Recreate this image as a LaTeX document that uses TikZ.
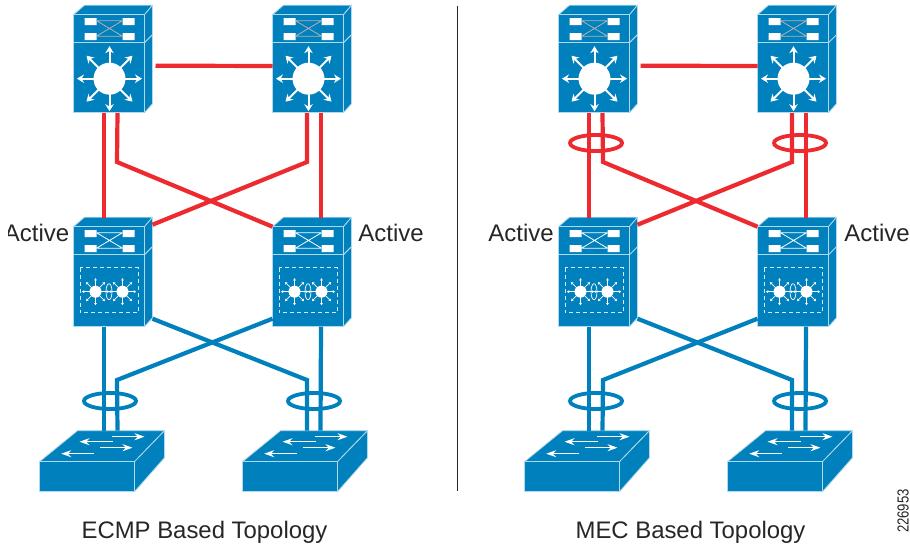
\documentclass[tikz,border=0pt]{standalone}
\usepackage{fontspec}
\usetikzlibrary{arrows.meta}
\setmainfont{Liberation Sans}
\definecolor{cblue}{HTML}{0080BC}
\definecolor{cred}{HTML}{ED2A30}
\tikzset{
  face/.style={fill=cblue,draw=white!70!cblue,line width=.8pt,line join=round},
  redlink/.style={draw=cred,line width=4.2pt},
  bluelink/.style={draw=cblue,line width=4.2pt},
  bundlered/.style={draw=cred,line width=3.8pt},
  bundleblue/.style={draw=cblue,line width=3.8pt},
  wline/.style={draw=white!70!cblue,line width=1pt},
  warrow/.style={draw=white,line width=2pt,-{Stealth[length=7pt,width=8.5pt]}},
  warrowsmall/.style={draw=white,line width=.7pt,-{Stealth[length=2.4pt,width=3pt]}},
  swarrow/.style={draw=white,line width=1.3pt,-{Stealth[length=10pt,width=7pt]}},
  lbl/.style={font=\fontsize{24}{24}\selectfont,text=black!85,inner sep=0pt,anchor=base},
  captiontext/.style={font=\fontsize{23.9}{24}\selectfont,text=black!85,inner sep=0pt,anchor=base},
}
% upper module with crossed ports; origin = front top left
\newcommand\portmodule[1]{%
  \fill[white] (11,3.5) rectangle (23,10.5) (49,3.5) rectangle (61,10.5) (11,18.5) rectangle (23,25.5) (49,18.5) rectangle (61,25.5);
  \draw[draw=#1,line width=.8pt] (23,6)--(49,6) (23,21.5)--(49,21.5) (23,21.5)--(49,6) (23,6)--(49,21.5);
}
\newcommand\chassis[3]{% bottom offset, x, y
  \begin{scope}[shift={(#2,#3)}]
    \path[face] (0,0)--(11,-9.5)--(79,-9.5)--(71,0)--cycle;
    \path[face] (71,0)--(79,-9.5)--(79,#1)--(71,#1+9)--cycle;
    \draw[wline] (71,28)--(79,20);
    \path[face] (0,0) rectangle (71,#1+9);
    \draw[wline] (0,28)--(71,28);
  \end{scope}}
\newcommand\core[3]{% name x y
  \chassis{89}{#2}{#3}
  \begin{scope}[shift={(#2,#3)}]
    \node[minimum width=71pt,minimum height=98pt,inner sep=0pt,outer sep=0pt,anchor=north west] (#1) at (0,0) {};
    \portmodule{black!30}
    \coordinate (#1-b1) at (30.5,98.5); \coordinate (#1-b2) at (44,98.5);
    \coordinate (#1-b3) at (34.5,98.5); \coordinate (#1-b4) at (48.5,98.5);
    \fill[white] (36,64) circle (16);
    \foreach \a in {0,45,...,315}
      \draw[warrow] (36,64) ++(\a:15) -- ++(\a:17.5);
  \end{scope}}
\newcommand\dist[3]{% name x y
  \chassis{91}{#2}{#3}
  \begin{scope}[shift={(#2,#3)}]
    \node[minimum width=71pt,minimum height=100pt,inner sep=0pt,outer sep=0pt,anchor=north west] (#1) at (0,0) {};
    \portmodule{white}
    \coordinate (#1-t1) at (30.5,-9); \coordinate (#1-t2) at (44,-9);
    \coordinate (#1-t3) at (34.5,-9); \coordinate (#1-t4) at (48.5,-9);
    \coordinate (#1-b1) at (30.5,100); \coordinate (#1-b3) at (48.5,100);
    \coordinate (#1-ne) at (79,-2); \coordinate (#1-nw) at (0,0);
    \coordinate (#1-se) at (79,92); \coordinate (#1-sw) at (0,92);
    \draw[white!85!cblue,line width=.9pt,dash pattern=on 4pt off 3pt] (6.5,41) rectangle (64.5,86);
    \foreach \c in {22,49}{
      \fill[white] (\c,65) circle (6);
      \foreach \a in {0,45,...,315}
        \draw[warrowsmall] (\c,65) ++(\a:5) -- ++(\a:8.5);
    }
    \draw[white,line width=1.4pt] (22,65)--(49,65);
    \draw[white,line width=.7pt] (35.5,65) ellipse (3 and 8);
  \end{scope}}
\newcommand\access[3]{% name x y
  \begin{scope}[shift={(#2,#3)}]
    \path[face] (0,0)--(38,-31)--(125,-31)--(95,0)--cycle;
    \path[face] (95,0)--(125,-31)--(125,-4)--(95,30)--cycle;
    \node[face,minimum width=95pt,minimum height=30pt,inner sep=0pt,outer sep=0pt,anchor=north west] (#1) at (0,0) {};
    \coordinate (#1-t1) at (64.5,-31); \coordinate (#1-t2) at (78,-31);
    \draw[swarrow] (72.7,-25)--(105,-25);
    \draw[swarrow] (73,-20)--(40,-20);
    \draw[swarrow] (60.7,-14)--(93,-14);
    \draw[swarrow] (54,-8)--(21.7,-8);
  \end{scope}}
\begin{document}
\begin{tikzpicture}[x=1pt,y=-1pt]
\useasboundingbox (0,0) rectangle (910,545);
% left topology
\core{lcA}{73.5}{14.7}\core{lcB}{272.5}{14.7}
\dist{ldA}{73.5}{226.7}\dist{ldB}{272.5}{226.7}
\access{laA}{39.5}{461.7}\access{laB}{242.5}{461.7}
% right topology
\core{rcA}{558.5}{14.7}\core{rcB}{757.5}{14.7}
\dist{rdA}{558.5}{226.7}\dist{rdB}{757.5}{226.7}
\access{raA}{524.5}{461.7}\access{raB}{727.5}{461.7}
% bend points
\coordinate (b1) at (117,162);\coordinate (b2) at (307,162);
\coordinate (b3) at (603,162);\coordinate (b4) at (792,162);
\coordinate (c1) at (117,380);\coordinate (c2) at (307,380);
\coordinate (c3) at (603,380);\coordinate (c4) at (792,380);
% red links
\draw[redlink] (lcA.east) ++(11,2) -- (lcB.west |- 0,66);
\draw[redlink] (rcA.east) ++(11,2) -- (rcB.west |- 0,66);
\draw[redlink] (lcA-b1)--(ldA-t1);
\draw[redlink] (lcA-b2)--(b1)--(ldB-nw);
\draw[redlink] (lcB-b4)--(ldB-t4);
\draw[redlink] (lcB-b3)--(b2)--(ldA-ne);
\draw[redlink] (rcA-b1)--(rdA-t1);
\draw[redlink] (rcA-b2)--(b3)--(rdB-nw);
\draw[redlink] (rcB-b4)--(rdB-t4);
\draw[redlink] (rcB-b3)--(b4)--(rdA-ne);
% blue links
\draw[bluelink] (ldA-b1)--(laA-t1);
\draw[bluelink] (ldA-se)--(c2)--(laB-t1);
\draw[bluelink] (ldB-b3)--(laB-t2);
\draw[bluelink] (ldB-sw)--(c1)--(laA-t2);
\draw[bluelink] (rdA-b1)--(raA-t1);
\draw[bluelink] (rdA-se)--(c4)--(raB-t1);
\draw[bluelink] (rdB-b3)--(raB-t2);
\draw[bluelink] (rdB-sw)--(c3)--(raA-t2);
% bundles
\draw[bundlered] (596,143) ellipse (26 and 8);
\draw[bundlered] (800,143) ellipse (26 and 8);
\draw[bundleblue] (110,401) ellipse (26 and 8);
\draw[bundleblue] (314,401) ellipse (26 and 8);
\draw[bundleblue] (596,401) ellipse (26 and 8);
\draw[bundleblue] (800,401) ellipse (26 and 8);
% divider
\coordinate (d1) at (457.5,6);\coordinate (d2) at (457.5,491);
\draw[black!85,line width=.8pt] (d1)--(d2);
% labels
\begin{scope}
  \clip (8,200) rectangle (100,260);
  \node[lbl] (t1) at (36.5,242) {Active};
\end{scope}
\node[lbl] (t2) at (391,242) {Active};
\node[lbl] (t3) at (521,242) {Active};
\node[lbl] (t4) at (877,242) {Active};
\node[captiontext] (t5) at (204.5,538) {ECMP Based Topology};
\node[captiontext] (t6) at (690.5,538) {MEC Based Topology};
\node[font=\fontsize{16}{16}\selectfont,rotate=90,inner sep=0pt,text=black!85] (t7) at (903,511) {\scalebox{.82}[1]{226953}};
\end{tikzpicture}
\end{document}
